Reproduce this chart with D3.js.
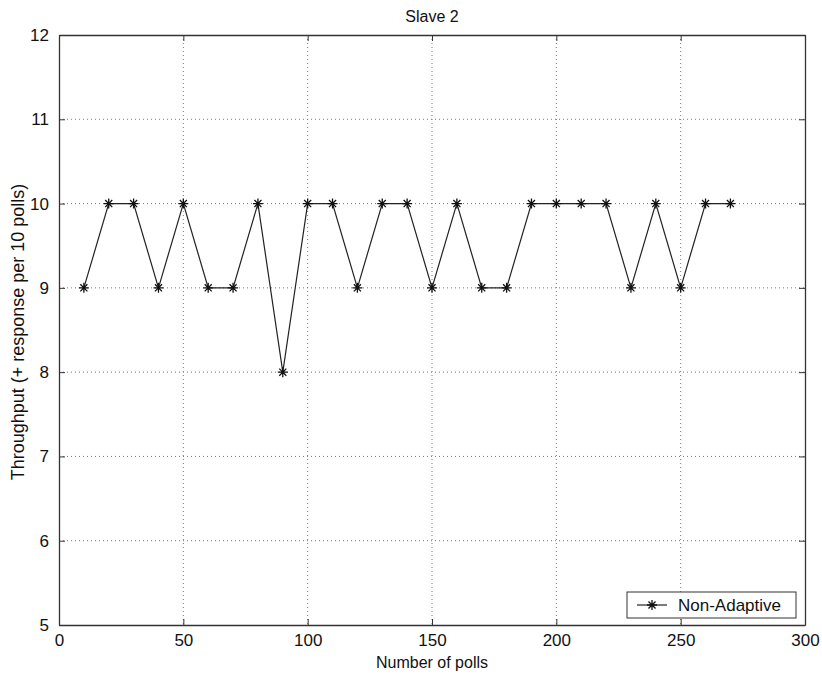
<!DOCTYPE html>
<html>
<head>
<meta charset="utf-8">
<script src="https://cdn.jsdelivr.net/npm/d3@7"></script>
<style>
  html, body { margin: 0; padding: 0; background: #fff; }
  svg { display: block; }
  text { font-family: "Liberation Sans", Arial, sans-serif; fill: #111; }
</style>
</head>
<body>
<svg id="chart" width="822" height="678"></svg>
<script>
// Throughput for Slave 2, sampled every 10 polls
const polls = [10, 20, 30, 40, 50, 60, 70, 80, 90, 100, 110, 120, 130, 140,
               150, 160, 170, 180, 190, 200, 210, 220, 230, 240, 250, 260, 270];
const throughput = [9, 10, 10, 9, 10, 9, 9, 10, 8, 10, 10, 9, 10, 10,
                    9, 10, 9, 9, 10, 10, 10, 10, 9, 10, 9, 10, 10];
const xTicks = [0, 50, 100, 150, 200, 250, 300];
const yTicks = [5, 6, 7, 8, 9, 10, 11, 12];
const seriesName = "Non-Adaptive";
const titleText = "Slave 2";
const xLabel = "Number of polls";
const yLabel = "Throughput (+ response per 10 polls)";

const plotLeft = 59, plotRight = 805, plotTop = 35, plotBottom = 625;
const fontSize = 16;
const tickFontSize = 17;
const svg = d3.select("#chart");

const x = d3.scaleLinear().domain([0, 300]).range([plotLeft, plotRight]);
const y = d3.scaleLinear().domain([5, 12]).range([plotBottom, plotTop]);

// dotted grid
const grid = svg.append("g").attr("stroke", "#777").attr("stroke-width", 1)
  .attr("stroke-dasharray", "1,3");
xTicks.slice(1, -1).forEach(t => {
  grid.append("line").attr("x1", x(t)).attr("x2", x(t)).attr("y1", plotTop).attr("y2", plotBottom);
});
yTicks.slice(1, -1).forEach(t => {
  grid.append("line").attr("x1", plotLeft).attr("x2", plotRight).attr("y1", y(t)).attr("y2", y(t));
});

// axes with inward ticks on all four sides
const tickLen = 6;
const axisColor = "#333";
const fmt = d3.format("d");
const gB = svg.append("g").attr("transform", `translate(0,${plotBottom})`)
  .call(d3.axisBottom(x).tickValues(xTicks).tickFormat(fmt).tickSizeInner(-tickLen).tickSizeOuter(0).tickPadding(9));
const gT = svg.append("g").attr("transform", `translate(0,${plotTop})`)
  .call(d3.axisTop(x).tickValues(xTicks).tickSizeInner(-tickLen).tickSizeOuter(0).tickFormat(""));
const gL = svg.append("g").attr("transform", `translate(${plotLeft},0)`)
  .call(d3.axisLeft(y).tickValues(yTicks).tickFormat(fmt).tickSizeInner(-tickLen).tickSizeOuter(0).tickPadding(10));
const gR = svg.append("g").attr("transform", `translate(${plotRight},0)`)
  .call(d3.axisRight(y).tickValues(yTicks).tickSizeInner(-tickLen).tickSizeOuter(0).tickFormat(""));
[gB, gT, gL, gR].forEach(g => {
  g.selectAll(".domain").attr("stroke", axisColor).attr("stroke-width", 1.3);
  g.selectAll(".tick line").attr("stroke", axisColor).attr("stroke-width", 1);
  g.selectAll("text").attr("font-size", tickFontSize).attr("font-family", "Liberation Sans, Arial, sans-serif").attr("fill", "#111");
});

// asterisk marker path
function star(cx, cy, r) {
  const d = r * Math.SQRT1_2;
  return `M${cx - r},${cy}L${cx + r},${cy}M${cx},${cy - r}L${cx},${cy + r}` +
         `M${cx - d},${cy - d}L${cx + d},${cy + d}M${cx - d},${cy + d}L${cx + d},${cy - d}`;
}

const data = polls.map((p, i) => ({ p, v: throughput[i] }));
const line = d3.line().x(d => x(d.p)).y(d => y(d.v));
svg.append("path").datum(data).attr("d", line)
  .attr("fill", "none").attr("stroke", "#222").attr("stroke-width", 1.2);
svg.append("g").selectAll("path").data(data).join("path")
  .attr("d", d => star(x(d.p), y(d.v), 5))
  .attr("stroke", "#111").attr("stroke-width", 1.3).attr("fill", "none");

// titles
svg.append("text").attr("x", (plotLeft + plotRight) / 2).attr("y", 22)
  .attr("text-anchor", "middle").attr("font-size", fontSize).text(titleText);
svg.append("text").attr("x", (plotLeft + plotRight) / 2).attr("y", 668)
  .attr("text-anchor", "middle").attr("font-size", fontSize).text(xLabel);
svg.append("text").attr("transform", `translate(24,332) rotate(-90)`)
  .attr("text-anchor", "middle").attr("font-size", 18).text(yLabel);

// legend
const lg = svg.append("g");
lg.append("rect").attr("x", 627).attr("y", 592).attr("width", 169).attr("height", 26)
  .attr("fill", "#fff").attr("stroke", "#333").attr("stroke-width", 1);
lg.append("line").attr("x1", 637).attr("x2", 667).attr("y1", 605).attr("y2", 605)
  .attr("stroke", "#222").attr("stroke-width", 1.2);
lg.append("path").attr("d", star(652, 605, 5)).attr("stroke", "#111")
  .attr("stroke-width", 1.3).attr("fill", "none");
lg.append("text").attr("x", 678).attr("y", 611).attr("font-size", 17).text(seriesName);
</script>
</body>
</html>
